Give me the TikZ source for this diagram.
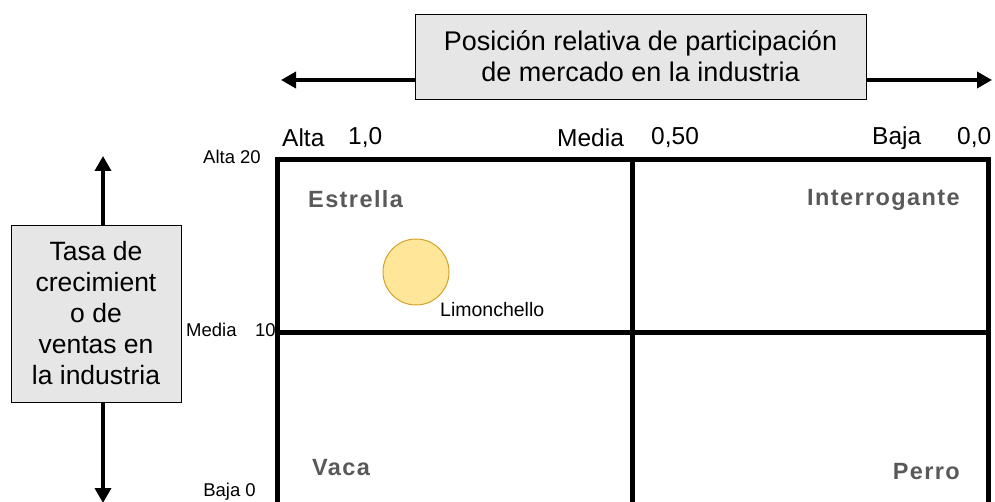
\documentclass[tikz,border=0pt]{standalone}
\usepackage{fontspec}
\setmainfont{Liberation Sans}
\usepackage{tikz}
\usetikzlibrary{arrows.meta}
\definecolor{boxgray}{HTML}{E6E6E6}
\definecolor{quadgray}{HTML}{595959}
\definecolor{lemon}{HTML}{FFE699}
\definecolor{lemonline}{HTML}{D1A32C}
\tikzset{
  titlebox/.style={draw,fill=boxgray,line width=0.8pt,align=center,inner sep=0pt},
  axisarrow/.style={line width=3.5pt,-{Triangle[length=15pt,width=16pt]}},
  quadlabel/.style={font=\fontsize{23.5}{25}\selectfont\bfseries\addfontfeature{LetterSpace=6},text=quadgray,inner sep=0pt},
  ticklabel/.style={font=\fontsize{24.5}{26}\selectfont,inner sep=0pt},
  sidelabel/.style={font=\fontsize{18.5}{20}\selectfont,inner sep=0pt}
}
\begin{document}
\begin{tikzpicture}[x=1pt,y=-1pt]
                \useasboundingbox (0,0) rectangle (995,502);
                \clip (0,0) rectangle (995,502);
                % matrix frame
                \draw[line width=5pt] (277,515) -- (277,160) -- (988,160) -- (988,515);
                \draw[line width=5pt] (632,160) -- (632,515);
                \draw[line width=5pt] (277,332) -- (988,332);
                % title boxes
                \node[titlebox,minimum width=451pt,minimum height=85pt,font=\fontsize{27}{31}\selectfont] (share) at (640.5,56.5) {Posición relativa de participación\\de mercado en la industria};
                \node[titlebox,minimum width=170pt,minimum height=177pt,font=\fontsize{26.5}{31}\selectfont] (growth) at (96,313.5) {Tasa de\\crecimient\\o de\\ventas en\\la industria};
                \coordinate (shareL) at (281,80);
                \coordinate (shareR) at (992,80);
                \coordinate (growthU) at (103,156);
                \coordinate (growthD) at (103,503);
                \draw[axisarrow] (share.west |- shareL) -- (shareL);
                \draw[axisarrow] (share.east |- shareR) -- (shareR);
                \draw[axisarrow] (growth.north -| growthU) -- (growthU);
                \draw[axisarrow] (growth.south -| growthD) -- (growthD);
                % top scale
                \node[ticklabel,anchor=west] (altaX) at (282,138) {Alta};
                \node[ticklabel,anchor=west] (altaV) at (348,138) {1,0};
                \node[ticklabel,anchor=west] (mediaX) at (557,138) {Media};
                \node[ticklabel,anchor=west] (mediaV) at (651,138) {0,50};
                \node[ticklabel,anchor=west] (bajaX) at (872,138) {Baja};
                \node[ticklabel,anchor=west] (bajaV) at (957,138) {0,0};
                % side scale
                \node[sidelabel,anchor=east] (altaY) at (261,157) {Alta 20};
                \node[sidelabel,anchor=west] (mediaY) at (186,330) {Media};
                \node[sidelabel,anchor=west] (mediaW) at (255,330) {10};
                \node[sidelabel,anchor=east] (bajaY) at (256,492) {Baja 0};
                % quadrants
                \node[quadlabel,anchor=west] (star) at (308,199) {Estrella};
                \node[quadlabel,anchor=east] (question) at (960,200) {Interrogante};
                \node[quadlabel,anchor=west] (cow) at (312,468) {Vaca};
                \node[quadlabel,anchor=east] (dog) at (960,472) {Perro};
                % product
                \node[circle,draw=lemonline,fill=lemon,line width=1pt,minimum size=66pt,inner sep=0pt] (limon) at (416,272) {};
                \node[sidelabel,anchor=west,font=\fontsize{19.5}{21}\selectfont] (limonlbl) at (440,310) {Limonchello};
            \end{tikzpicture}
\end{document}
